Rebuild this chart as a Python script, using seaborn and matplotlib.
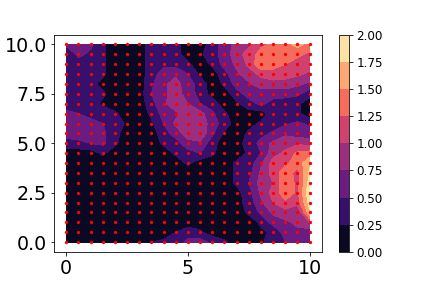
import numpy as np
import pandas as pd
import matplotlib
matplotlib.use("Agg")
import matplotlib.pyplot as plt
import seaborn as sns

x_vals = [i * 0.5 for i in range(21)]
y_vals = [10 - i * 0.5 for i in range(21)]
levels = [0, 0.25, 0.5, 0.75, 1.0, 1.25, 1.5, 1.75, 2.0]

z0 = [.55,.6,.55,.3,.1,.1,.1,.4,.4,.35,.1,.1,.4,.6,.85,.95,1.2,1.3,1.4,1.6,1.4]
z1 = [.3,.55,.45,.3,.1,.1,.1,.4,.45,.35,.1,.2,.4,.6,.9,1.1,1.35,1.3,1.3,1.3,1.2]
z2 = [.4,.4,.4,.3,.1,.1,.1,.4,.45,.4,.3,.1,.3,.6,.8,1.05,1.5,1.35,1.25,1.15,1.1]
z3 = [.35,.4,.4,.3,.1,.1,.1,.4,.6,.7,.5,.2,.1,.4,.7,.9,1.05,1.15,1.1,1.05,.95]
z4 = [.35,.35,.35,.15,.1,.1,.1,.45,.7,.85,.6,.4,.1,.3,.6,.7,.9,.9,.9,.8,.7]
z5 = [.4,.4,.4,.3,.1,.1,.1,.5,.7,.85,.65,.4,.15,.1,.4,.6,.6,.6,.6,.55,.35]
z6 = [.4,.4,.35,.2,.1,.1,.1,.4,.7,.9,.75,.5,.4,.1,.2,.4,.55,.4,.35,.3,.1]
z7 = [.55,.5,.4,.4,.3,.1,.1,.3,.6,.7,.85,.85,.55,.3,.1,.15,.1,.4,.4,.3,.1]
z8 = [.6,.6,.6,.5,.4,.2,.1,.2,.5,.8,.9,.95,.6,.4,.1,.15,.3,.35,.45,.55,.45]
z9 = [.6,.6,.6,.55,.35,.1,.2,.1,.4,.6,.9,.95,.55,.2,.1,.3,.4,.55,.7,.6,.6]
z10 = [.4,.45,.5,.55,.3,.1,.1,.1,.3,.4,.65,.7,.35,.1,.2,.3,.6,.8,.9,.95,.9]
z11 = [.1,.1,.1,.3,.1,.1,.1,.1,.1,.3,.4,.5,.3,.1,.1,.3,.5,.9,1.05,1.3,1.35]
z12 = [.1,.1,.1,.1,.1,.1,.1,.1,.1,.1,.3,.1,.1,.1,.3,.35,.7,1.1,1.2,1.35,1.7]
z13 = [.1,.1,.1,.1,.1,.1,.1,.1,.1,.1,.1,.1,.1,.1,.3,.4,.8,1.1,1.4,1.15,1.8]
z14 = [.1,.1,.1,.1,.1,.1,.1,.1,.1,.1,.1,.1,.1,.1,.3,.5,.85,1.0,1.5,1.15,1.85]
z15 = [.1,.1,.1,.1,.1,.1,.1,.1,.1,.1,.1,.1,.1,.1,.15,.4,.8,1.1,1.4,1.2,1.95]
z16 = [.1,.1,.1,.1,.1,.1,.1,.1,.1,.1,.1,.1,.1,.1,.15,.35,.7,1.0,1.2,1.1,1.85]
z17 = [.1,.1,.1,.1,.1,.1,.1,.1,.1,.1,.1,.1,.1,.1,.1,.3,.55,.8,.9,.7,1.7]
z18 = [.1,.1,.1,.1,.1,.1,.1,.1,.1,.1,.1,.1,.1,.1,.1,.1,.3,.6,.7,.8,1.0]
z19 = [.1,.1,.1,.1,.1,.1,.1,.1,.1,.25,.4,.3,.1,.1,.1,.1,.2,.3,.6,.7,.6]
z20 = [.1,.1,.1,.1,.1,.1,.1,.25,.3,.4,.55,.6,.45,.3,.1,.1,.2,.4,.5,.6,.6]
z_rows = [z0,z1,z2,z3,z4,z5,z6,z7,z8,z9,z10,z11,z12,z13,z14,z15,z16,z17,z18,z19,z20]

X, Y = np.meshgrid(x_vals, y_vals)
Z = np.array(z_rows)

fig, ax = plt.subplots(figsize=(6, 4), dpi=72)
fig.subplots_adjust(left=0.125, right=0.9, top=0.88, bottom=0.125)
cs = ax.contourf(X, Y, Z, levels=levels, cmap="magma")
pts = pd.DataFrame({"x": X.ravel(), "y": Y.ravel()})
sns.scatterplot(data=pts, x="x", y="y", color="red", s=11, linewidth=0, ax=ax)
ax.set_xlabel("")
ax.set_ylabel("")
ax.set_xlim(-0.5, 10.5)
ax.set_ylim(-0.5, 10.5)
ax.set_xticks([0, 5, 10])
ax.set_yticks([0, 2.5, 5, 7.5, 10])
ax.tick_params(labelsize=19)
cb = fig.colorbar(cs, ax=ax)
cb.ax.tick_params(labelsize=12)
fig.savefig("out.png", dpi=72)
